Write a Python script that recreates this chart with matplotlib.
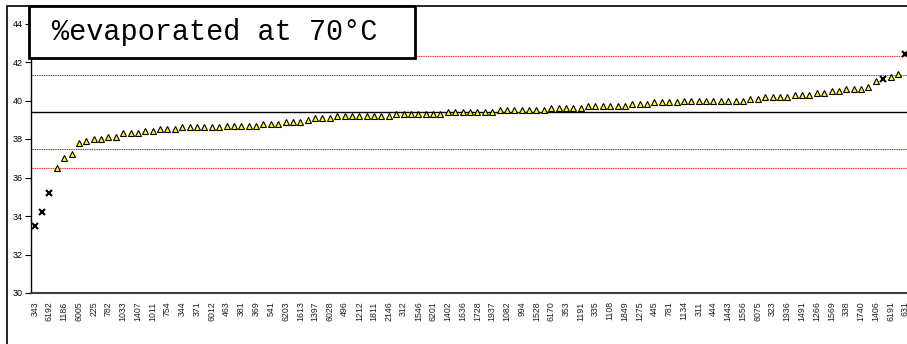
import matplotlib
matplotlib.use("Agg")
import matplotlib.pyplot as plt
from matplotlib.patches import Rectangle

# ─── Data: % evaporated at 70 °C per sample, sorted ascending ────────────────
SAMPLES = [
    "343", "", "6192", "", "1186", "", "6005", "", "225", "", "782", "", "1033", "", "1407", "",
    "1011", "", "754", "", "344", "", "371", "", "6012", "", "463", "", "381", "", "369", "",
    "541", "", "6203", "", "1613", "", "1397", "", "6028", "", "496", "", "1212", "", "1811", "",
    "2146", "", "312", "", "1546", "", "6201", "", "1402", "", "1636", "", "1728", "", "1937", "",
    "1082", "", "994", "", "1528", "", "6170", "", "353", "", "1191", "", "335", "", "1108", "",
    "1849", "", "1275", "", "445", "", "781", "", "1134", "", "311", "", "444", "", "1443", "",
    "1556", "", "6075", "", "323", "", "1936", "", "1491", "", "1266", "", "1569", "", "338", "",
    "1740", "", "1406", "", "6191", "", "631",
]

EVAP = [
    33.5, 34.2, 35.2, 36.5, 37.0, 37.2, 37.8, 37.9, 38.0, 38.0,
    38.1, 38.1, 38.3, 38.3, 38.3, 38.4, 38.4, 38.5, 38.5, 38.5,
    38.6, 38.6, 38.6, 38.6, 38.6, 38.6, 38.7, 38.7, 38.7, 38.7,
    38.7, 38.8, 38.8, 38.8, 38.9, 38.9, 38.9, 39.0, 39.1, 39.1,
    39.1, 39.2, 39.2, 39.2, 39.2, 39.2, 39.2, 39.2, 39.2, 39.3,
    39.3, 39.3, 39.3, 39.3, 39.3, 39.3, 39.4, 39.4, 39.4, 39.4,
    39.4, 39.4, 39.4, 39.5, 39.5, 39.5, 39.5, 39.5, 39.5, 39.5,
    39.6, 39.6, 39.6, 39.6, 39.6, 39.7, 39.7, 39.7, 39.7, 39.7,
    39.7, 39.8, 39.8, 39.8, 39.9, 39.9, 39.9, 39.9, 40.0, 40.0,
    40.0, 40.0, 40.0, 40.0, 40.0, 40.0, 40.0, 40.1, 40.1, 40.2,
    40.2, 40.2, 40.2, 40.3, 40.3, 40.3, 40.4, 40.4, 40.5, 40.5,
    40.6, 40.6, 40.6, 40.7, 41.0, 41.1, 41.2, 41.4, 42.4,
]

# samples flagged as outliers (drawn with an x)
OUTLIERS = [0, 1, 2, 115, 118]

MEAN = 39.4
LIMITS_2S = [37.47, 41.33]
LIMITS_3S = [36.51, 42.29]

x = list(range(len(EVAP)))

# ─── Figure ──────────────────────────────────────────────────────────────────
fig = plt.figure(figsize=(9.07, 3.44), dpi=100)
W, H = 907, 344

# chart-area frame
fig.patches.append(Rectangle((7 / W, -0.1), 1.2, 1 - 6 / H + 0.1, transform=fig.transFigure,
                             fill=False, edgecolor="black", linewidth=1.2))

ax = fig.add_axes([31 / W, (H - 293) / H, 878 / W, (293 - 23.5) / H])

ax.axhline(MEAN, color="black", linewidth=1.0, zorder=2)
for y in LIMITS_2S:
    ax.axhline(y, color="#4040ff", linewidth=0.8, linestyle=(0, (1, 0.6)), zorder=2)
for y in LIMITS_3S:
    ax.axhline(y, color="#ff3030", linewidth=0.8, linestyle=(0, (1, 0.6)), zorder=2)

xi = [i for i in x if i not in OUTLIERS]
xo = [i for i in x if i in OUTLIERS]
ax.plot(xi, [EVAP[i] for i in xi], "^", color="#ffff00", markeredgecolor="black",
        markersize=4.6, markeredgewidth=0.8, linestyle="none", zorder=3)
ax.plot(xo, [EVAP[i] for i in xo], "x", color="black", markersize=4.6,
        markeredgewidth=1.5, linestyle="none", zorder=3)

ax.set_xlim(-0.5, len(EVAP) - 0.5)
ax.set_ylim(30, 44)
ax.set_yticks([30, 32, 34, 36, 38, 40, 42, 44])
ax.set_xticks(x)
ax.set_xticklabels(SAMPLES, rotation=90, fontsize=6.3, family="Liberation Sans", color="#202020")
ax.tick_params(axis="x", length=0, pad=6)
ax.tick_params(axis="y", length=4, width=0.8, pad=2, labelsize=6.5, direction="out")
for lab in ax.get_yticklabels():
    lab.set_family("Liberation Sans")

for s in ["top", "right"]:
    ax.spines[s].set_visible(False)
ax.spines["left"].set_linewidth(1.0)
ax.spines["bottom"].set_linewidth(1.5)
ax.spines["bottom"].set_color("#404040")

# title box
fig.patches.append(Rectangle((29 / W, 1 - 58 / H), 386 / W, 52 / H, transform=fig.transFigure,
                             facecolor="white", edgecolor="black", linewidth=2, zorder=5))
fig.text(52 / W, 1 - 32 / H, "%evaporated at 70°C", family="Liberation Mono",
         fontsize=20.6, va="center", ha="left", zorder=6)

plt.savefig("out.png", dpi=100)
plt.close()
print("Saved: out.png")
